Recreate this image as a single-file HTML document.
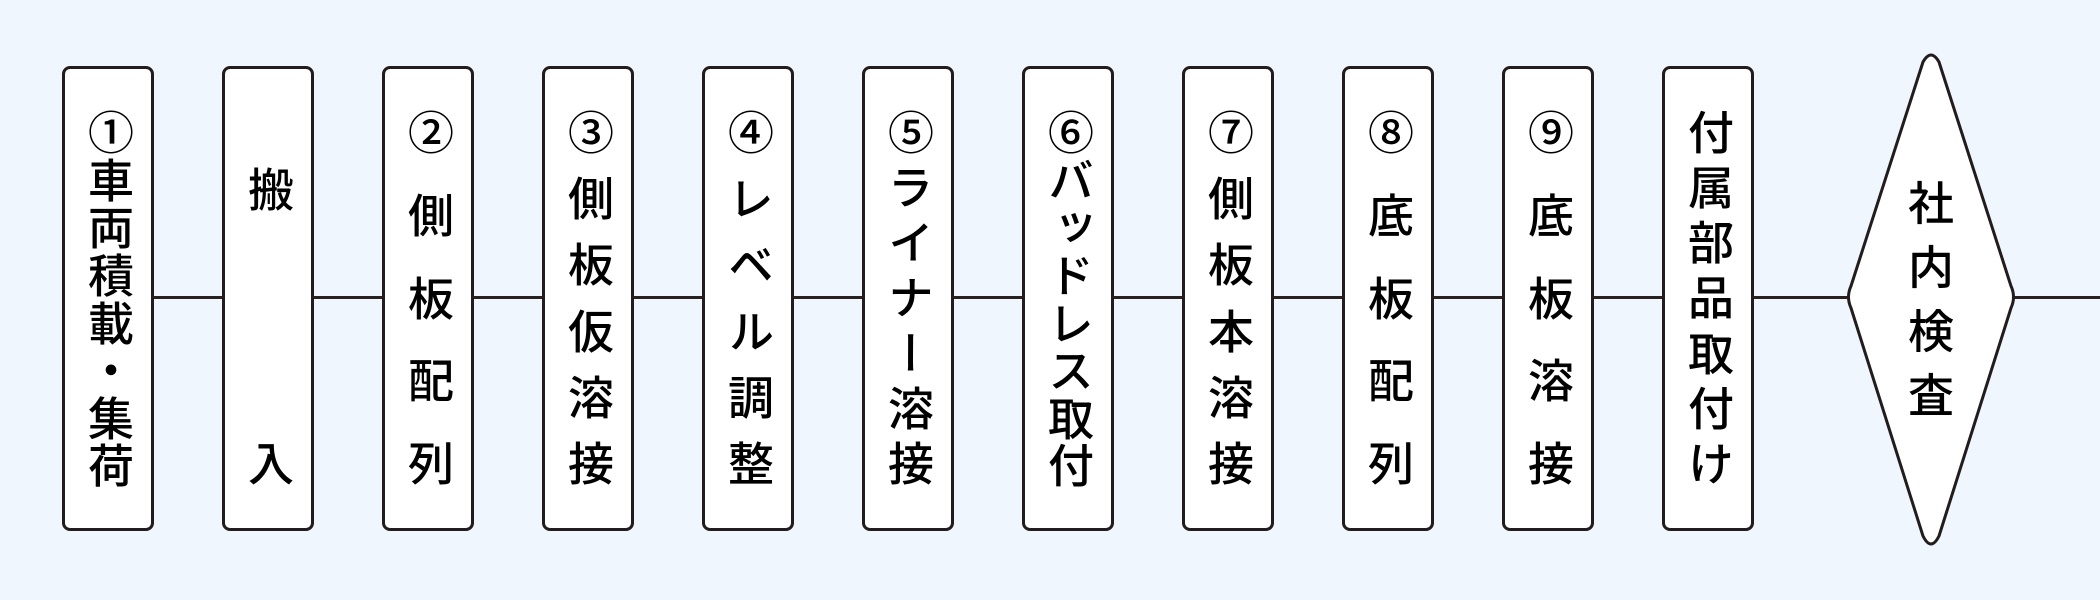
<!DOCTYPE html>
<html><head><meta charset="utf-8"><style>
html,body{margin:0;padding:0}
body{width:2100px;height:600px;background:#eff6fe;position:relative;overflow:hidden;font-family:"Liberation Sans","Noto Sans CJK JP",sans-serif;color:#000}
.line{position:absolute;left:150px;width:1950px;top:296px;height:2.6px;background:#2a2020}
.box{position:absolute;top:66px;background:#fff;border:3px solid #231c1c;border-radius:8px;display:flex;flex-direction:column;justify-content:space-between;align-items:center;padding:40px 0 38px;box-sizing:border-box;height:465px;width:92px}
.box span{display:block;font-size:46px;font-weight:500;line-height:50px;height:50px;writing-mode:vertical-rl;text-orientation:upright}
svg{position:absolute;left:0;top:0}
.dia{position:absolute;left:1847px;top:54px;width:168px;height:492px;display:flex;flex-direction:column;align-items:center;justify-content:center}
.dia span{font-size:46px;font-weight:500;line-height:64px;display:block}
</style></head><body>
<div class="line"></div>
<div class="box" style="left:62px"><span>①</span><span>車</span><span>両</span><span>積</span><span>載</span><span>・</span><span>集</span><span>荷</span></div>
<div class="box" style="left:222px;padding:97px 0 38px"><span>搬</span><span>入</span></div>
<div class="box" style="left:382px"><span>②</span><span>側</span><span>板</span><span>配</span><span>列</span></div>
<div class="box" style="left:542px"><span>③</span><span>側</span><span>板</span><span>仮</span><span>溶</span><span>接</span></div>
<div class="box" style="left:702px"><span>④</span><span>レ</span><span>ベ</span><span>ル</span><span>調</span><span>整</span></div>
<div class="box" style="left:862px"><span>⑤</span><span>ラ</span><span>イ</span><span>ナ</span><span>ー</span><span>溶</span><span>接</span></div>
<div class="box" style="left:1022px"><span>⑥</span><span>バ</span><span>ッ</span><span>ド</span><span>レ</span><span>ス</span><span>取</span><span>付</span></div>
<div class="box" style="left:1182px"><span>⑦</span><span>側</span><span>板</span><span>本</span><span>溶</span><span>接</span></div>
<div class="box" style="left:1342px"><span>⑧</span><span>底</span><span>板</span><span>配</span><span>列</span></div>
<div class="box" style="left:1502px"><span>⑨</span><span>底</span><span>板</span><span>溶</span><span>接</span></div>
<div class="box" style="left:1662px"><span>付</span><span>属</span><span>部</span><span>品</span><span>取</span><span>付</span><span>け</span></div>
<svg width="2100" height="600"><path d="M1923,62 Q1931,48 1939,62 L2011,286 Q2016,297 2011,308 L1939,536 Q1931,552 1923,536 L1851,308 Q1846,297 1851,286 Z" fill="#fff" stroke="#231c1c" stroke-width="3" stroke-linejoin="round"/></svg>
<div class="dia"><span>社</span><span>内</span><span>検</span><span>査</span></div>
</body></html>
